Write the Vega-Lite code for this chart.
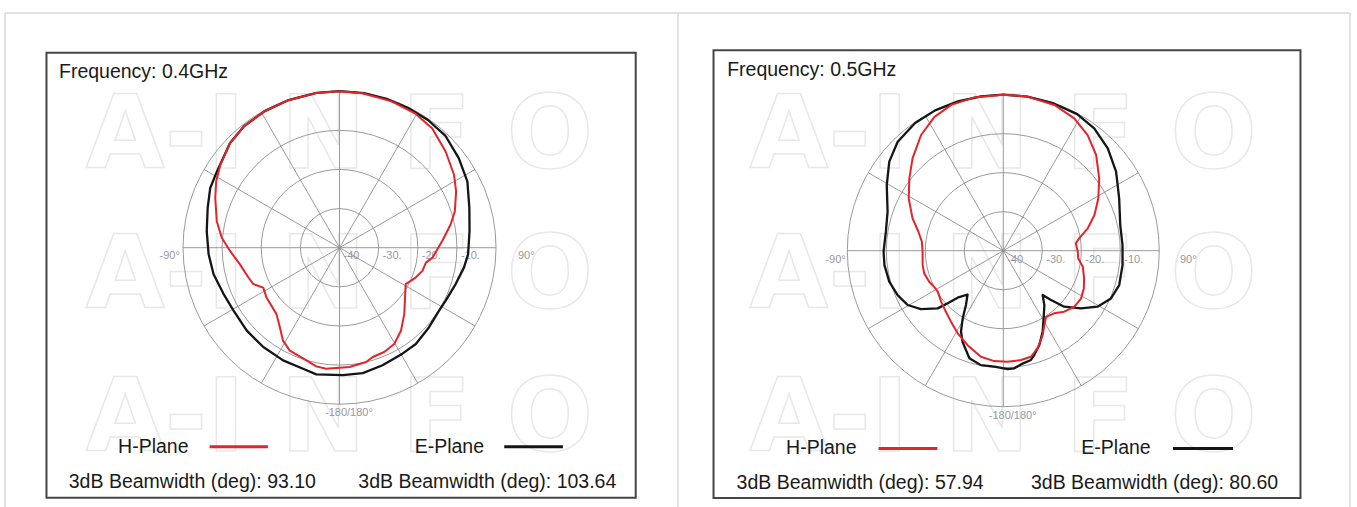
{
  "$schema": "https://vega.github.io/schema/vega-lite/v6.json",
  "padding": {"left": 4, "top": 12, "right": 0, "bottom": 0},
  "autosize": {"type": "pad"},
  "spacing": 0,
  "bounds": "flush",
  "config": {"view": {"stroke": null}, "text": {"font": "Liberation Sans"}},
  "resolve": {"scale": {"x": "independent", "y": "independent", "size": "independent"}},
  "datasets": {
    "rings": [{"r": 10}, {"r": 20}, {"r": 30}, {"r": 40}],
    "spokes": [{"a": 0}, {"a": 30}, {"a": 60}, {"a": 90}, {"a": 120}, {"a": 150}, {"a": 180}, {"a": 210}, {"a": 240}, {"a": 270}, {"a": 300}, {"a": 330}],
    "ringlabels": [{"r": 0, "t": "-40"}, {"r": 10, "t": "-30."}, {"r": 20, "t": "-20."}, {"r": 30, "t": "-10."}],
    "p04": [
      {"plane": "H-Plane", "angle": 0, "dB": 0}, {"plane": "H-Plane", "angle": 8.4, "dB": -0.1}, {"plane": "H-Plane", "angle": 19.6, "dB": -0.3}, {"plane": "H-Plane", "angle": 29.3, "dB": -0.6}, {"plane": "H-Plane", "angle": 37.9, "dB": -1.4}, {"plane": "H-Plane", "angle": 47.8, "dB": -3.4}, {"plane": "H-Plane", "angle": 57.5, "dB": -5.3}, {"plane": "H-Plane", "angle": 64.2, "dB": -6.9}, {"plane": "H-Plane", "angle": 72.5, "dB": -9.1}, {"plane": "H-Plane", "angle": 78.2, "dB": -11.0}, {"plane": "H-Plane", "angle": 86.3, "dB": -13.7}, {"plane": "H-Plane", "angle": 96.1, "dB": -16.1}, {"plane": "H-Plane", "angle": 99.8, "dB": -17.6}, {"plane": "H-Plane", "angle": 105.6, "dB": -18.0}, {"plane": "H-Plane", "angle": 111.4, "dB": -19.1}, {"plane": "H-Plane", "angle": 118.8, "dB": -20.7}, {"plane": "H-Plane", "angle": 127.1, "dB": -19.0}, {"plane": "H-Plane", "angle": 135.7, "dB": -16.3}, {"plane": "H-Plane", "angle": 143.5, "dB": -13.6}, {"plane": "H-Plane", "angle": 150.4, "dB": -11.7}, {"plane": "H-Plane", "angle": 156.8, "dB": -11.0}, {"plane": "H-Plane", "angle": 163.1, "dB": -10.8}, {"plane": "H-Plane", "angle": 166.9, "dB": -10.0}, {"plane": "H-Plane", "angle": 175.2, "dB": -9.4}, {"plane": "H-Plane", "angle": 180, "dB": -9.3}, {"plane": "H-Plane", "angle": 186.3, "dB": -8.9}, {"plane": "H-Plane", "angle": 191.1, "dB": -9.1}, {"plane": "H-Plane", "angle": 196.4, "dB": -10.0}, {"plane": "H-Plane", "angle": 205.8, "dB": -10.8}, {"plane": "H-Plane", "angle": 211.3, "dB": -12.2}, {"plane": "H-Plane", "angle": 216.9, "dB": -14.6}, {"plane": "H-Plane", "angle": 223.5, "dB": -16.6}, {"plane": "H-Plane", "angle": 235.7, "dB": -17.4}, {"plane": "H-Plane", "angle": 242.4, "dB": -18.0}, {"plane": "H-Plane", "angle": 247.1, "dB": -16.1}, {"plane": "H-Plane", "angle": 251.9, "dB": -15.5}, {"plane": "H-Plane", "angle": 260.5, "dB": -14.2}, {"plane": "H-Plane", "angle": 268.3, "dB": -12.0}, {"plane": "H-Plane", "angle": 274.8, "dB": -9.8}, {"plane": "H-Plane", "angle": 282.2, "dB": -7.9}, {"plane": "H-Plane", "angle": 291.8, "dB": -5.8}, {"plane": "H-Plane", "angle": 298.3, "dB": -4.2}, {"plane": "H-Plane", "angle": 304.8, "dB": -2.9}, {"plane": "H-Plane", "angle": 313.7, "dB": -1.3}, {"plane": "H-Plane", "angle": 321.9, "dB": -0.5}, {"plane": "H-Plane", "angle": 331.3, "dB": -0.2}, {"plane": "H-Plane", "angle": 340.6, "dB": -0.1}, {"plane": "H-Plane", "angle": 351.6, "dB": 0}, {"plane": "H-Plane", "angle": 360, "dB": 0},
      {"plane": "E-Plane", "angle": 0, "dB": 0}, {"plane": "E-Plane", "angle": 9, "dB": 0}, {"plane": "E-Plane", "angle": 17.5, "dB": -0.1}, {"plane": "E-Plane", "angle": 26.0, "dB": -0.2}, {"plane": "E-Plane", "angle": 34.7, "dB": -0.3}, {"plane": "E-Plane", "angle": 43.3, "dB": -0.6}, {"plane": "E-Plane", "angle": 53.1, "dB": -1.9}, {"plane": "E-Plane", "angle": 62.6, "dB": -3.2}, {"plane": "E-Plane", "angle": 73.0, "dB": -5.3}, {"plane": "E-Plane", "angle": 82.7, "dB": -6.5}, {"plane": "E-Plane", "angle": 93.0, "dB": -7.1}, {"plane": "E-Plane", "angle": 99.1, "dB": -7.8}, {"plane": "E-Plane", "angle": 107.4, "dB": -8.9}, {"plane": "E-Plane", "angle": 116.6, "dB": -9.7}, {"plane": "E-Plane", "angle": 122.3, "dB": -9.9}, {"plane": "E-Plane", "angle": 131.6, "dB": -9.4}, {"plane": "E-Plane", "angle": 141.6, "dB": -8.6}, {"plane": "E-Plane", "angle": 149.3, "dB": -8.5}, {"plane": "E-Plane", "angle": 159.9, "dB": -8.0}, {"plane": "E-Plane", "angle": 169.5, "dB": -7.4}, {"plane": "E-Plane", "angle": 178.5, "dB": -7.4}, {"plane": "E-Plane", "angle": 190.4, "dB": -7.1}, {"plane": "E-Plane", "angle": 196.8, "dB": -7.7}, {"plane": "E-Plane", "angle": 206.6, "dB": -7.8}, {"plane": "E-Plane", "angle": 217.5, "dB": -8.0}, {"plane": "E-Plane", "angle": 228.2, "dB": -8.2}, {"plane": "E-Plane", "angle": 239.3, "dB": -8.5}, {"plane": "E-Plane", "angle": 248.2, "dB": -8.1}, {"plane": "E-Plane", "angle": 258.1, "dB": -7.1}, {"plane": "E-Plane", "angle": 267.1, "dB": -6.5}, {"plane": "E-Plane", "angle": 277.1, "dB": -5.8}, {"plane": "E-Plane", "angle": 286.8, "dB": -4.8}, {"plane": "E-Plane", "angle": 294.8, "dB": -3.6}, {"plane": "E-Plane", "angle": 301.9, "dB": -3.1}, {"plane": "E-Plane", "angle": 313.7, "dB": -1.3}, {"plane": "E-Plane", "angle": 321.9, "dB": -0.5}, {"plane": "E-Plane", "angle": 331.3, "dB": -0.2}, {"plane": "E-Plane", "angle": 340.6, "dB": -0.1}, {"plane": "E-Plane", "angle": 351.6, "dB": 0}, {"plane": "E-Plane", "angle": 360, "dB": 0}
    ],
    "p05": [
      {"plane": "H-Plane", "angle": 0, "dB": 0}, {"plane": "H-Plane", "angle": 8.9, "dB": 0}, {"plane": "H-Plane", "angle": 19.3, "dB": -0.4}, {"plane": "H-Plane", "angle": 28.2, "dB": -1.5}, {"plane": "H-Plane", "angle": 36.1, "dB": -3.3}, {"plane": "H-Plane", "angle": 44.1, "dB": -5.8}, {"plane": "H-Plane", "angle": 53.0, "dB": -9.2}, {"plane": "H-Plane", "angle": 61.2, "dB": -12.2}, {"plane": "H-Plane", "angle": 68.6, "dB": -14.9}, {"plane": "H-Plane", "angle": 75.2, "dB": -17.6}, {"plane": "H-Plane", "angle": 80.8, "dB": -20.3}, {"plane": "H-Plane", "angle": 84.2, "dB": -21.3}, {"plane": "H-Plane", "angle": 90.8, "dB": -20.9}, {"plane": "H-Plane", "angle": 95.8, "dB": -20.7}, {"plane": "H-Plane", "angle": 101.4, "dB": -19.2}, {"plane": "H-Plane", "angle": 108.9, "dB": -18.1}, {"plane": "H-Plane", "angle": 115.1, "dB": -17.2}, {"plane": "H-Plane", "angle": 121.5, "dB": -16.6}, {"plane": "H-Plane", "angle": 128.3, "dB": -16.8}, {"plane": "H-Plane", "angle": 135.0, "dB": -17.9}, {"plane": "H-Plane", "angle": 140.9, "dB": -19.3}, {"plane": "H-Plane", "angle": 147.1, "dB": -19.8}, {"plane": "H-Plane", "angle": 151.1, "dB": -18.2}, {"plane": "H-Plane", "angle": 155.0, "dB": -16.1}, {"plane": "H-Plane", "angle": 160.6, "dB": -13.5}, {"plane": "H-Plane", "angle": 165.4, "dB": -11.9}, {"plane": "H-Plane", "angle": 170.8, "dB": -11.6}, {"plane": "H-Plane", "angle": 177.8, "dB": -11.5}, {"plane": "H-Plane", "angle": 184.7, "dB": -11.6}, {"plane": "H-Plane", "angle": 191.9, "dB": -12.2}, {"plane": "H-Plane", "angle": 200.7, "dB": -14.1}, {"plane": "H-Plane", "angle": 208.9, "dB": -15.8}, {"plane": "H-Plane", "angle": 216.4, "dB": -17.4}, {"plane": "H-Plane", "angle": 223.2, "dB": -18.5}, {"plane": "H-Plane", "angle": 230.7, "dB": -19.4}, {"plane": "H-Plane", "angle": 238.0, "dB": -20.2}, {"plane": "H-Plane", "angle": 242.4, "dB": -20.0}, {"plane": "H-Plane", "angle": 247.3, "dB": -19.4}, {"plane": "H-Plane", "angle": 254.0, "dB": -18.9}, {"plane": "H-Plane", "angle": 259.9, "dB": -19.0}, {"plane": "H-Plane", "angle": 269.3, "dB": -19.3}, {"plane": "H-Plane", "angle": 276.3, "dB": -19.0}, {"plane": "H-Plane", "angle": 282.6, "dB": -17.7}, {"plane": "H-Plane", "angle": 289.6, "dB": -15.3}, {"plane": "H-Plane", "angle": 298.9, "dB": -12.3}, {"plane": "H-Plane", "angle": 307.6, "dB": -9.6}, {"plane": "H-Plane", "angle": 315.5, "dB": -6.8}, {"plane": "H-Plane", "angle": 324.6, "dB": -3.6}, {"plane": "H-Plane", "angle": 332.8, "dB": -1.4}, {"plane": "H-Plane", "angle": 340.4, "dB": -0.3}, {"plane": "H-Plane", "angle": 349.3, "dB": 0}, {"plane": "H-Plane", "angle": 360, "dB": 0},
      {"plane": "E-Plane", "angle": 0, "dB": 0}, {"plane": "E-Plane", "angle": 8.9, "dB": 0}, {"plane": "E-Plane", "angle": 18.9, "dB": -0.1}, {"plane": "E-Plane", "angle": 28.4, "dB": -0.2}, {"plane": "E-Plane", "angle": 36.6, "dB": -0.9}, {"plane": "E-Plane", "angle": 45.6, "dB": -2.5}, {"plane": "E-Plane", "angle": 55.0, "dB": -4.7}, {"plane": "E-Plane", "angle": 65.7, "dB": -7.4}, {"plane": "E-Plane", "angle": 77.6, "dB": -9.3}, {"plane": "E-Plane", "angle": 87.3, "dB": -9.4}, {"plane": "E-Plane", "angle": 96.8, "dB": -9.2}, {"plane": "E-Plane", "angle": 106.5, "dB": -9.0}, {"plane": "E-Plane", "angle": 113.9, "dB": -9.8}, {"plane": "E-Plane", "angle": 120.7, "dB": -11.9}, {"plane": "E-Plane", "angle": 126.6, "dB": -15.2}, {"plane": "E-Plane", "angle": 132.6, "dB": -18.8}, {"plane": "E-Plane", "angle": 136.0, "dB": -22.4}, {"plane": "E-Plane", "angle": 138.4, "dB": -24.8}, {"plane": "E-Plane", "angle": 143.0, "dB": -22.5}, {"plane": "E-Plane", "angle": 149.2, "dB": -19.8}, {"plane": "E-Plane", "angle": 154.1, "dB": -16.9}, {"plane": "E-Plane", "angle": 159.1, "dB": -14.1}, {"plane": "E-Plane", "angle": 163.5, "dB": -12.1}, {"plane": "E-Plane", "angle": 165.8, "dB": -11.1}, {"plane": "E-Plane", "angle": 171.2, "dB": -10.5}, {"plane": "E-Plane", "angle": 174.7, "dB": -9.7}, {"plane": "E-Plane", "angle": 177.9, "dB": -9.6}, {"plane": "E-Plane", "angle": 184.4, "dB": -10.2}, {"plane": "E-Plane", "angle": 191.1, "dB": -10.1}, {"plane": "E-Plane", "angle": 197.5, "dB": -11.1}, {"plane": "E-Plane", "angle": 204.1, "dB": -14.4}, {"plane": "E-Plane", "angle": 207.6, "dB": -16.6}, {"plane": "E-Plane", "angle": 211.0, "dB": -19.8}, {"plane": "E-Plane", "angle": 214.5, "dB": -23.1}, {"plane": "E-Plane", "angle": 219.2, "dB": -25.5}, {"plane": "E-Plane", "angle": 224.2, "dB": -23.2}, {"plane": "E-Plane", "angle": 226.6, "dB": -20.4}, {"plane": "E-Plane", "angle": 228.7, "dB": -17.6}, {"plane": "E-Plane", "angle": 234.7, "dB": -14.1}, {"plane": "E-Plane", "angle": 240.4, "dB": -11.8}, {"plane": "E-Plane", "angle": 247.2, "dB": -10.6}, {"plane": "E-Plane", "angle": 254.8, "dB": -9.7}, {"plane": "E-Plane", "angle": 263.1, "dB": -9.3}, {"plane": "E-Plane", "angle": 269.5, "dB": -9.3}, {"plane": "E-Plane", "angle": 279.2, "dB": -9.5}, {"plane": "E-Plane", "angle": 288.6, "dB": -8.7}, {"plane": "E-Plane", "angle": 299.4, "dB": -5.7}, {"plane": "E-Plane", "angle": 308.0, "dB": -2.9}, {"plane": "E-Plane", "angle": 315.9, "dB": -1.1}, {"plane": "E-Plane", "angle": 325.4, "dB": -0.2}, {"plane": "E-Plane", "angle": 334.1, "dB": 0}, {"plane": "E-Plane", "angle": 343.1, "dB": 0}, {"plane": "E-Plane", "angle": 351.8, "dB": 0}, {"plane": "E-Plane", "angle": 360, "dB": 0}
    ]
  },
  "hconcat": [
    {
      "width": 673, "height": 494,
      "layer": [
        {"data": {"values": [{}]}, "mark": {"type": "text", "font": "DejaVu Sans", "fontWeight": "bold", "fontSize": 102, "fill": "transparent", "stroke": "#e8e8e8", "strokeWidth": 1.5, "align": "center", "baseline": "alphabetic"},
         "encoding": {"x": {"datum": 0, "type": "quantitative", "scale": {"domain": [-85.5, 86.51], "nice": false, "zero": false}, "axis": null}, "y": {"datum": 20.4, "type": "quantitative", "scale": {"domain": [-66.27, 59.99], "nice": false, "zero": false}, "axis": null}, "text": {"value": "A-I N F O"}}},
        {"data": {"values": [{}]}, "mark": {"type": "text", "font": "DejaVu Sans", "fontWeight": "bold", "fontSize": 102, "fill": "transparent", "stroke": "#e8e8e8", "strokeWidth": 1.5, "align": "center", "baseline": "alphabetic"},
         "encoding": {"x": {"datum": 0, "type": "quantitative"}, "y": {"datum": -15.4, "type": "quantitative"}, "text": {"value": "A-I N F O"}}},
        {"data": {"values": [{}]}, "mark": {"type": "text", "font": "DejaVu Sans", "fontWeight": "bold", "fontSize": 102, "fill": "transparent", "stroke": "#e8e8e8", "strokeWidth": 1.5, "align": "center", "baseline": "alphabetic"},
         "encoding": {"x": {"datum": 0, "type": "quantitative"}, "y": {"datum": -52.0, "type": "quantitative"}, "text": {"value": "A-I N F O"}}},
        {"data": {"values": [{}]}, "mark": {"type": "rule", "stroke": "#d9d9d9", "strokeWidth": 1.5}, "encoding": {"x": {"datum": -85.5, "type": "quantitative"}}},
        {"data": {"values": [{}]}, "mark": {"type": "rule", "stroke": "#d9d9d9", "strokeWidth": 1.5}, "encoding": {"x": {"datum": 86.51, "type": "quantitative"}}},
        {"data": {"values": [{}]}, "mark": {"type": "rule", "stroke": "#d9d9d9", "strokeWidth": 1.5}, "encoding": {"y": {"datum": 59.99, "type": "quantitative"}}},
        {"data": {"name": "rings"}, "mark": {"type": "point", "shape": "circle", "filled": false, "stroke": "#8f8f8f", "strokeWidth": 0.9, "opacity": 1},
         "encoding": {"x": {"datum": 0, "type": "quantitative"}, "y": {"datum": 0, "type": "quantitative"}, "size": {"field": "r", "type": "quantitative", "legend": null, "scale": {"type": "pow", "exponent": 2, "domain": [0, 40], "range": [0, 97969]}}}},
        {"data": {"name": "spokes"}, "transform": [{"calculate": "0", "as": "cx"}, {"calculate": "0", "as": "cy"}, {"calculate": "40 * sin(datum.a * PI / 180)", "as": "sx"}, {"calculate": "40 * cos(datum.a * PI / 180)", "as": "sy"}],
         "mark": {"type": "rule", "stroke": "#8f8f8f", "strokeWidth": 0.9},
         "encoding": {"x": {"field": "cx", "type": "quantitative"}, "y": {"field": "cy", "type": "quantitative"}, "x2": {"field": "sx"}, "y2": {"field": "sy"}}},
        {"data": {"name": "ringlabels"}, "mark": {"type": "text", "fontSize": 11, "fill": "#999999", "align": "left", "baseline": "alphabetic", "dx": 4},
         "encoding": {"x": {"field": "r", "type": "quantitative"}, "y": {"datum": -2.9, "type": "quantitative"}, "text": {"field": "t"}}},
        {"data": {"values": [{}]}, "mark": {"type": "text", "fontSize": 11, "fill": "#999999", "align": "right", "baseline": "alphabetic"},
         "encoding": {"x": {"datum": -40.8, "type": "quantitative"}, "y": {"datum": -2.9, "type": "quantitative"}, "text": {"value": "-90°"}}},
        {"data": {"values": [{}]}, "mark": {"type": "text", "fontSize": 11, "fill": "#999999", "align": "left", "baseline": "alphabetic"},
         "encoding": {"x": {"datum": 45.6, "type": "quantitative"}, "y": {"datum": -2.9, "type": "quantitative"}, "text": {"value": "90°"}}},
        {"data": {"values": [{}]}, "mark": {"type": "text", "fontSize": 11, "fill": "#999999", "align": "center", "baseline": "alphabetic"},
         "encoding": {"x": {"datum": 2.4, "type": "quantitative"}, "y": {"datum": -43.0, "type": "quantitative"}, "text": {"value": "-180/180°"}}},
        {"data": {"name": "p04"}, "transform": [{"filter": "datum.plane === 'E-Plane'"}, {"calculate": "(datum.dB + 40) * sin(datum.angle * PI / 180)", "as": "px"}, {"calculate": "(datum.dB + 40) * cos(datum.angle * PI / 180)", "as": "py"}],
         "mark": {"type": "line", "stroke": "#151515", "strokeWidth": 2.3, "strokeJoin": "round"},
         "encoding": {"x": {"field": "px", "type": "quantitative"}, "y": {"field": "py", "type": "quantitative"}, "order": {"field": "angle", "type": "quantitative"}}},
        {"data": {"name": "p04"}, "transform": [{"filter": "datum.plane === 'H-Plane'"}, {"calculate": "(datum.dB + 40) * sin(datum.angle * PI / 180)", "as": "px"}, {"calculate": "(datum.dB + 40) * cos(datum.angle * PI / 180)", "as": "py"}],
         "mark": {"type": "line", "stroke": "#e3242b", "strokeWidth": 2, "strokeJoin": "round"},
         "encoding": {"x": {"field": "px", "type": "quantitative"}, "y": {"field": "py", "type": "quantitative"}, "order": {"field": "angle", "type": "quantitative"}}},
        {"data": {"values": [{}]}, "mark": {"type": "rect", "filled": false, "stroke": "#454545", "strokeWidth": 2},
         "encoding": {"x": {"datum": -74.9, "type": "quantitative"}, "x2": {"datum": 75.7, "type": "quantitative"}, "y": {"datum": 49.8, "type": "quantitative"}, "y2": {"datum": -63.9, "type": "quantitative"}}},
        {"data": {"values": [{}]}, "mark": {"type": "text", "fontSize": 19.5, "fill": "#1a1a1a", "align": "left", "baseline": "alphabetic"},
         "encoding": {"x": {"datum": -71.7, "type": "quantitative"}, "y": {"datum": 43.45, "type": "quantitative"}, "text": {"value": "Frequency: 0.4GHz"}}},
        {"data": {"values": [{}]}, "mark": {"type": "text", "fontSize": 19.5, "fill": "#1a1a1a", "align": "left", "baseline": "alphabetic"},
         "encoding": {"x": {"datum": -56.6, "type": "quantitative"}, "y": {"datum": -52.4, "type": "quantitative"}, "text": {"value": "H-Plane"}}},
        {"data": {"values": [{}]}, "mark": {"type": "rule", "stroke": "#e3242b", "strokeWidth": 3},
         "encoding": {"x": {"datum": -33.2, "type": "quantitative"}, "x2": {"datum": -18.3, "type": "quantitative"}, "y": {"datum": -50.9, "type": "quantitative"}}},
        {"data": {"values": [{}]}, "mark": {"type": "text", "fontSize": 19.5, "fill": "#1a1a1a", "align": "left", "baseline": "alphabetic"},
         "encoding": {"x": {"datum": 19.2, "type": "quantitative"}, "y": {"datum": -52.4, "type": "quantitative"}, "text": {"value": "E-Plane"}}},
        {"data": {"values": [{}]}, "mark": {"type": "rule", "stroke": "#151515", "strokeWidth": 3},
         "encoding": {"x": {"datum": 42.1, "type": "quantitative"}, "x2": {"datum": 57.1, "type": "quantitative"}, "y": {"datum": -50.9, "type": "quantitative"}}},
        {"data": {"values": [{}]}, "mark": {"type": "text", "fontSize": 19.5, "fill": "#1a1a1a", "align": "left", "baseline": "alphabetic"},
         "encoding": {"x": {"datum": -69.2, "type": "quantitative"}, "y": {"datum": -61.3, "type": "quantitative"}, "text": {"value": "3dB Beamwidth (deg): 93.10"}}},
        {"data": {"values": [{}]}, "mark": {"type": "text", "fontSize": 19.5, "fill": "#1a1a1a", "align": "left", "baseline": "alphabetic"},
         "encoding": {"x": {"datum": 4.8, "type": "quantitative"}, "y": {"datum": -61.3, "type": "quantitative"}, "text": {"value": "3dB Beamwidth (deg): 103.64"}}}
      ]
    },
    {
      "width": 672, "height": 494,
      "layer": [
        {"data": {"values": [{}]}, "mark": {"type": "text", "font": "DejaVu Sans", "fontWeight": "bold", "fontSize": 102, "fill": "transparent", "stroke": "#e8e8e8", "strokeWidth": 1.5, "align": "center", "baseline": "alphabetic"},
         "encoding": {"x": {"datum": 0, "type": "quantitative", "scale": {"domain": [-83.41, 88.9], "nice": false, "zero": false}, "axis": null}, "y": {"datum": 21.2, "type": "quantitative", "scale": {"domain": [-65.72, 60.95], "nice": false, "zero": false}, "axis": null}, "text": {"value": "A-I N F O"}}},
        {"data": {"values": [{}]}, "mark": {"type": "text", "font": "DejaVu Sans", "fontWeight": "bold", "fontSize": 102, "fill": "transparent", "stroke": "#e8e8e8", "strokeWidth": 1.5, "align": "center", "baseline": "alphabetic"},
         "encoding": {"x": {"datum": 0, "type": "quantitative"}, "y": {"datum": -14.7, "type": "quantitative"}, "text": {"value": "A-I N F O"}}},
        {"data": {"values": [{}]}, "mark": {"type": "text", "font": "DejaVu Sans", "fontWeight": "bold", "fontSize": 102, "fill": "transparent", "stroke": "#e8e8e8", "strokeWidth": 1.5, "align": "center", "baseline": "alphabetic"},
         "encoding": {"x": {"datum": 0, "type": "quantitative"}, "y": {"datum": -51.4, "type": "quantitative"}, "text": {"value": "A-I N F O"}}},
        {"data": {"values": [{}]}, "mark": {"type": "rule", "stroke": "#d9d9d9", "strokeWidth": 1.5}, "encoding": {"x": {"datum": 88.9, "type": "quantitative"}}},
        {"data": {"values": [{}]}, "mark": {"type": "rule", "stroke": "#d9d9d9", "strokeWidth": 1.5}, "encoding": {"y": {"datum": 60.95, "type": "quantitative"}}},
        {"data": {"name": "rings"}, "mark": {"type": "point", "shape": "circle", "filled": false, "stroke": "#8f8f8f", "strokeWidth": 0.9, "opacity": 1},
         "encoding": {"x": {"datum": 0, "type": "quantitative"}, "y": {"datum": 0, "type": "quantitative"}, "size": {"field": "r", "type": "quantitative", "legend": null, "scale": {"type": "pow", "exponent": 2, "domain": [0, 40], "range": [0, 97344]}}}},
        {"data": {"name": "spokes"}, "transform": [{"calculate": "0", "as": "cx"}, {"calculate": "0", "as": "cy"}, {"calculate": "40 * sin(datum.a * PI / 180)", "as": "sx"}, {"calculate": "40 * cos(datum.a * PI / 180)", "as": "sy"}],
         "mark": {"type": "rule", "stroke": "#8f8f8f", "strokeWidth": 0.9},
         "encoding": {"x": {"field": "cx", "type": "quantitative"}, "y": {"field": "cy", "type": "quantitative"}, "x2": {"field": "sx"}, "y2": {"field": "sy"}}},
        {"data": {"name": "ringlabels"}, "mark": {"type": "text", "fontSize": 11, "fill": "#999999", "align": "left", "baseline": "alphabetic", "dx": 4},
         "encoding": {"x": {"field": "r", "type": "quantitative"}, "y": {"datum": -3.1, "type": "quantitative"}, "text": {"field": "t"}}},
        {"data": {"values": [{}]}, "mark": {"type": "text", "fontSize": 11, "fill": "#999999", "align": "right", "baseline": "alphabetic"},
         "encoding": {"x": {"datum": -40.4, "type": "quantitative"}, "y": {"datum": -3.1, "type": "quantitative"}, "text": {"value": "-90°"}}},
        {"data": {"values": [{}]}, "mark": {"type": "text", "fontSize": 11, "fill": "#999999", "align": "left", "baseline": "alphabetic"},
         "encoding": {"x": {"datum": 45.3, "type": "quantitative"}, "y": {"datum": -3.1, "type": "quantitative"}, "text": {"value": "90°"}}},
        {"data": {"values": [{}]}, "mark": {"type": "text", "fontSize": 11, "fill": "#999999", "align": "center", "baseline": "alphabetic"},
         "encoding": {"x": {"datum": 2.4, "type": "quantitative"}, "y": {"datum": -43.2, "type": "quantitative"}, "text": {"value": "-180/180°"}}},
        {"data": {"name": "p05"}, "transform": [{"filter": "datum.plane === 'E-Plane'"}, {"calculate": "(datum.dB + 40) * sin(datum.angle * PI / 180)", "as": "px"}, {"calculate": "(datum.dB + 40) * cos(datum.angle * PI / 180)", "as": "py"}],
         "mark": {"type": "line", "stroke": "#151515", "strokeWidth": 2.3, "strokeJoin": "round"},
         "encoding": {"x": {"field": "px", "type": "quantitative"}, "y": {"field": "py", "type": "quantitative"}, "order": {"field": "angle", "type": "quantitative"}}},
        {"data": {"name": "p05"}, "transform": [{"filter": "datum.plane === 'H-Plane'"}, {"calculate": "(datum.dB + 40) * sin(datum.angle * PI / 180)", "as": "px"}, {"calculate": "(datum.dB + 40) * cos(datum.angle * PI / 180)", "as": "py"}],
         "mark": {"type": "line", "stroke": "#e3242b", "strokeWidth": 2, "strokeJoin": "round"},
         "encoding": {"x": {"field": "px", "type": "quantitative"}, "y": {"field": "py", "type": "quantitative"}, "order": {"field": "angle", "type": "quantitative"}}},
        {"data": {"values": [{}]}, "mark": {"type": "rect", "filled": false, "stroke": "#454545", "strokeWidth": 2},
         "encoding": {"x": {"datum": -74.3, "type": "quantitative"}, "x2": {"datum": 76.2, "type": "quantitative"}, "y": {"datum": 51.4, "type": "quantitative"}, "y2": {"datum": -63.4, "type": "quantitative"}}},
        {"data": {"values": [{}]}, "mark": {"type": "text", "fontSize": 19.5, "fill": "#1a1a1a", "align": "left", "baseline": "alphabetic"},
         "encoding": {"x": {"datum": -70.8, "type": "quantitative"}, "y": {"datum": 44.8, "type": "quantitative"}, "text": {"value": "Frequency: 0.5GHz"}}},
        {"data": {"values": [{}]}, "mark": {"type": "text", "fontSize": 19.5, "fill": "#1a1a1a", "align": "left", "baseline": "alphabetic"},
         "encoding": {"x": {"datum": -55.7, "type": "quantitative"}, "y": {"datum": -52.2, "type": "quantitative"}, "text": {"value": "H-Plane"}}},
        {"data": {"values": [{}]}, "mark": {"type": "rule", "stroke": "#e3242b", "strokeWidth": 3},
         "encoding": {"x": {"datum": -32.0, "type": "quantitative"}, "x2": {"datum": -16.9, "type": "quantitative"}, "y": {"datum": -50.7, "type": "quantitative"}}},
        {"data": {"values": [{}]}, "mark": {"type": "text", "fontSize": 19.5, "fill": "#1a1a1a", "align": "left", "baseline": "alphabetic"},
         "encoding": {"x": {"datum": 20.0, "type": "quantitative"}, "y": {"datum": -52.2, "type": "quantitative"}, "text": {"value": "E-Plane"}}},
        {"data": {"values": [{}]}, "mark": {"type": "rule", "stroke": "#151515", "strokeWidth": 3},
         "encoding": {"x": {"datum": 43.5, "type": "quantitative"}, "x2": {"datum": 58.9, "type": "quantitative"}, "y": {"datum": -50.7, "type": "quantitative"}}},
        {"data": {"values": [{}]}, "mark": {"type": "text", "fontSize": 19.5, "fill": "#1a1a1a", "align": "left", "baseline": "alphabetic"},
         "encoding": {"x": {"datum": -68.4, "type": "quantitative"}, "y": {"datum": -61.2, "type": "quantitative"}, "text": {"value": "3dB Beamwidth (deg): 57.94"}}},
        {"data": {"values": [{}]}, "mark": {"type": "text", "fontSize": 19.5, "fill": "#1a1a1a", "align": "left", "baseline": "alphabetic"},
         "encoding": {"x": {"datum": 7.1, "type": "quantitative"}, "y": {"datum": -61.2, "type": "quantitative"}, "text": {"value": "3dB Beamwidth (deg): 80.60"}}}
      ]
    }
  ]
}
